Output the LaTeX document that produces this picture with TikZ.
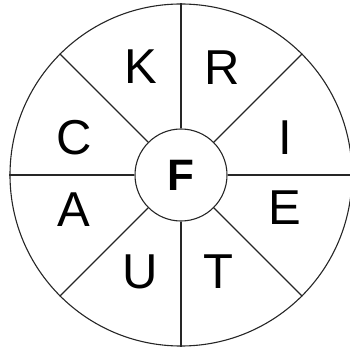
\documentclass[tikz,border=0pt]{standalone}
\usepackage{fontspec}
\setmainfont{Liberation Sans}
\usepackage{tikz}
\usetikzlibrary{positioning}

\begin{document}
\begin{tikzpicture}[x=1pt, y=-1pt,
  ring/.style={draw=black!85, line width=1.1pt, circle, inner sep=0pt},
  letter/.style={font=\fontsize{49}{49}\selectfont, inner sep=0pt}]
\useasboundingbox (0,0) rectangle (350,347);
% wheel
\node[ring, minimum size=342pt] (rim) at (181,175) {};
\node[ring, minimum size=92pt, font=\fontsize{44}{44}\selectfont\bfseries] (hub) at (181,175) {F};
\foreach \a in {0,45,...,315}
  \draw[black!85, line width=1.1pt] (hub.\a) -- (rim.\a);
% letters
\node[letter] (k) at (141,67) {K};
\node[letter] (r) at (222,68) {R};
\node[letter] (i) at (285,138) {I};
\node[letter] (e) at (285,208) {E};
\node[letter] (t) at (218,272) {T};
\node[letter] (u) at (140,272) {U};
\node[letter] (a) at (74,210) {A};
\node[letter] (c) at (74,138) {C};
\end{tikzpicture}
\end{document}
